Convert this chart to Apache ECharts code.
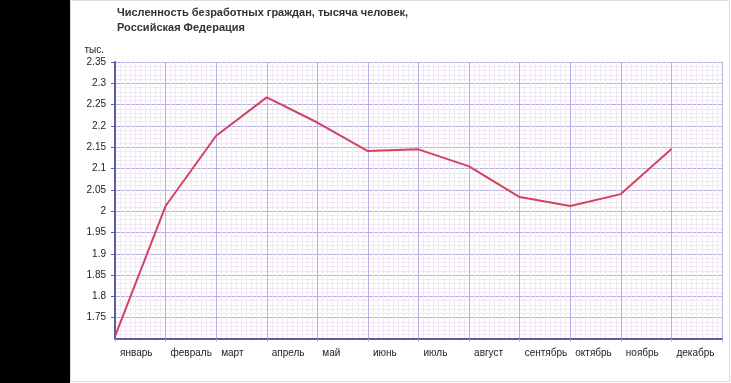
<!DOCTYPE html>
<html>
<head>
<meta charset="utf-8">
<script src="https://cdn.jsdelivr.net/npm/echarts@6/dist/echarts.min.js"></script>
<style>
html,body{margin:0;padding:0;background:#fff;}
#c{width:731px;height:383px;}
</style>
</head>
<body>
<div id="c"></div>
<script>
var months = ['январь','февраль','март','апрель','май','июнь','июль','август','сентябрь','октябрь','ноябрь','декабрь'];
var unemployed = [1.706, 2.012, 2.177, 2.267, 2.208, 2.141, 2.145, 2.105, 2.033, 2.012, 2.040, 2.146];
var titleText = 'Численность безработных граждан, тысяча человек,\nРоссийская Федерация';
var unitText = 'тыс.';

var chart = echarts.init(document.getElementById('c'), null, {renderer:'canvas'});
var axisColor = '#5c5ca6';
var majorColor = '#bcb0e2';
var minorColor = '#f1e8f5';
var font = 'Liberation Sans, Arial, sans-serif';

chart.setOption({
  animation: false,
  backgroundColor: '#fff',
  title: {
    text: titleText,
    left: 112, top: 0,
    textStyle: {fontFamily: font, fontSize: 11, fontWeight: 'bold', color: '#333', lineHeight: 15}
  },
  graphic: [
    {type:'rect', shape:{x:0,y:0,width:70,height:383}, style:{fill:'#000'}, z:0},
    {type:'rect', shape:{x:70.5,y:0.5,width:659,height:381}, style:{fill:'none', stroke:'#dcdcdc', lineWidth:1}, z:0}
  ],
  grid: {left: 115, right: 9, top: 62, bottom: 44, containLabel: false},
  xAxis: {
    type: 'value', min: 0, max: months.length, interval: 1,
    axisLine: {show: true, onZero: false, lineStyle: {color: axisColor, width: 2}},
    axisTick: {show: true, length: 3, lineStyle: {color: majorColor}},
    splitLine: {show: true, lineStyle: {color: majorColor, width: 1}},
    minorTick: {show: false, splitNumber: 10},
    minorSplitLine: {show: true, lineStyle: {color: minorColor, width: 1}},
    axisLabel: {
      formatter: function (v) { return months[v] || ''; },
      align: 'left', padding: [0,0,0,5], margin: 9,
      fontFamily: font, fontSize: 10, color: '#222',
      showMaxLabel: true
    }
  },
  yAxis: {
    type: 'value', min: 1.70, max: 2.35, interval: 0.05,
    name: unitText, nameLocation: 'end', nameGap: 7,
    nameTextStyle: {fontFamily: font, fontSize: 10, color: '#222', align: 'right', padding: [0,11,0,0]},
    axisLine: {show: true, lineStyle: {color: axisColor, width: 2}},
    axisTick: {show: true, length: 4, lineStyle: {color: axisColor}},
    splitLine: {show: true, lineStyle: {color: majorColor, width: 1}},
    minorTick: {show: false, splitNumber: 5},
    minorSplitLine: {show: true, lineStyle: {color: minorColor, width: 1}},
    axisLabel: {
      showMinLabel: false, margin: 9,
      fontFamily: font, fontSize: 10, color: '#222',
      formatter: function (v) { return String(Math.round(v * 100) / 100); }
    }
  },
  series: [{
    type: 'line',
    data: unemployed.map(function (v, i) { return [i, v]; }),
    showSymbol: false,
    lineStyle: {color: '#d1445f', width: 2},
    itemStyle: {color: '#d1445f'},
    z: 5
  }]
});
</script>
</body>
</html>
